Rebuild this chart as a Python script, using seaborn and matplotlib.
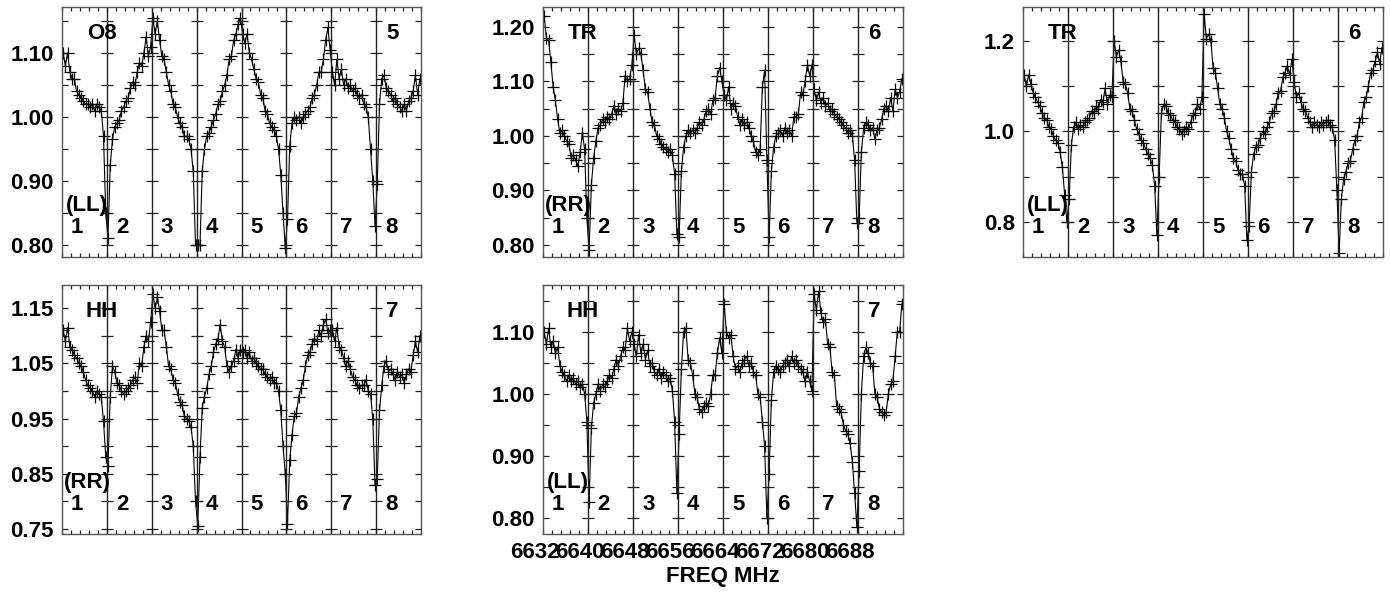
import numpy as np
import pandas as pd
import matplotlib
matplotlib.use("Agg")
import matplotlib.pyplot as plt
from matplotlib.ticker import MultipleLocator, FormatStrFormatter
from matplotlib.transforms import ScaledTranslation
import seaborn as sns

sns.set_style("ticks")
plt.rcParams["font.family"] = ["Liberation Sans", "DejaVu Sans"]
plt.rcParams["font.weight"] = "bold"
plt.rcParams["text.color"] = "black"
plt.rcParams["axes.labelcolor"] = "black"
plt.rcParams["xtick.color"] = "black"
plt.rcParams["ytick.color"] = "black"

# band edges of the 8 sub-bands (MHz), 20 channels per sub-band
edges = [6632, 6640, 6648, 6656, 6664, 6672, 6680, 6688, 6696]
n_chan = 20

# ---- O8 (LL) ----
o8_ll = [
    [1.10, 1.08, 1.10, 1.07, 1.06, 1.06, 1.04, 1.035, 1.03, 1.025, 1.02, 1.02, 1.015, 1.02, 1.01, 1.02, 1.015, 1.01, 0.97, 0.85],
    [0.81, 0.925, 0.965, 0.985, 0.99, 0.995, 1.01, 1.015, 1.025, 1.03, 1.045, 1.055, 1.05, 1.07, 1.085, 1.08, 1.10, 1.125, 1.095, 1.11],
    [1.155, 1.13, 1.15, 1.12, 1.095, 1.09, 1.07, 1.05, 1.04, 1.02, 1.015, 1.00, 0.99, 0.985, 0.97, 0.97, 0.965, 0.95, 0.915, 0.80],
    [0.80, 0.80, 0.915, 0.95, 0.97, 0.975, 0.985, 0.995, 1.005, 1.02, 1.025, 1.04, 1.05, 1.065, 1.09, 1.095, 1.12, 1.13, 1.145, 1.155],
    [1.13, 1.115, 1.13, 1.10, 1.09, 1.075, 1.06, 1.055, 1.035, 1.03, 1.01, 1.005, 0.99, 0.985, 0.98, 0.97, 0.95, 0.91, 0.85, 0.795],
    [0.84, 0.955, 0.99, 1.00, 0.995, 1.00, 0.99, 1.00, 1.005, 1.01, 1.015, 1.03, 1.035, 1.05, 1.07, 1.07, 1.09, 1.12, 1.14, 1.105],
    [1.07, 1.05, 1.09, 1.06, 1.075, 1.05, 1.06, 1.045, 1.05, 1.04, 1.045, 1.035, 1.03, 1.035, 1.02, 1.015, 1.00, 0.95, 0.90, 0.83],
    [0.895, 1.02, 1.06, 1.065, 1.045, 1.04, 1.035, 1.025, 1.03, 1.02, 1.015, 1.01, 1.02, 1.01, 1.025, 1.03, 1.04, 1.065, 1.035, 1.06],
]

# ---- TR (RR) ----
tr_rr = [
    [1.22, 1.18, 1.175, 1.135, 1.09, 1.065, 1.03, 1.005, 1.01, 1.00, 0.99, 0.985, 0.96, 0.965, 0.955, 0.945, 0.97, 1.005, 0.975, 0.85],
    [0.79, 0.91, 0.96, 0.99, 1.015, 1.02, 1.03, 1.025, 1.035, 1.03, 1.04, 1.055, 1.04, 1.05, 1.045, 1.06, 1.11, 1.10, 1.105, 1.13],
    [1.185, 1.15, 1.16, 1.15, 1.12, 1.085, 1.08, 1.05, 1.025, 1.02, 1.00, 0.995, 0.985, 0.98, 0.975, 0.97, 0.975, 0.965, 0.93, 0.82],
    [0.815, 0.935, 0.98, 1.00, 1.01, 1.005, 1.01, 1.005, 1.015, 1.025, 1.02, 1.03, 1.045, 1.05, 1.04, 1.065, 1.07, 1.11, 1.125, 1.10],
    [1.075, 1.065, 1.09, 1.05, 1.06, 1.055, 1.035, 1.02, 1.03, 1.02, 1.025, 1.015, 1.00, 0.99, 0.97, 0.965, 0.975, 1.09, 1.12, 0.955],
    [0.815, 0.935, 0.98, 1.00, 1.005, 1.01, 1.00, 1.015, 1.005, 1.01, 1.00, 1.035, 1.035, 1.04, 1.08, 1.075, 1.10, 1.13, 1.11, 1.13],
    [1.085, 1.065, 1.08, 1.06, 1.07, 1.055, 1.06, 1.045, 1.05, 1.04, 1.035, 1.03, 1.025, 1.02, 1.015, 1.005, 1.01, 1.00, 0.955, 0.84],
    [0.85, 0.97, 1.015, 1.025, 1.02, 1.01, 1.015, 0.995, 1.01, 1.015, 1.03, 1.05, 1.055, 1.045, 1.07, 1.045, 1.085, 1.07, 1.08, 1.105],
]

# ---- TR (LL) ----
tr_ll = [
    [1.125, 1.10, 1.125, 1.105, 1.085, 1.075, 1.065, 1.055, 1.04, 1.03, 1.025, 1.01, 1.005, 0.99, 0.98, 0.975, 0.955, 0.92, 0.86, 0.80],
    [0.85, 0.97, 1.01, 1.02, 1.005, 1.015, 1.01, 1.02, 1.025, 1.03, 1.045, 1.04, 1.055, 1.05, 1.07, 1.065, 1.095, 1.06, 1.08, 1.075],
    [1.20, 1.165, 1.18, 1.155, 1.11, 1.105, 1.085, 1.05, 1.045, 1.025, 1.005, 0.995, 0.98, 0.975, 0.96, 0.95, 0.94, 0.925, 0.88, 0.77],
    [0.90, 1.04, 1.06, 1.055, 1.04, 1.035, 1.025, 1.02, 1.01, 1.005, 0.995, 1.00, 1.01, 1.005, 1.02, 1.035, 1.04, 1.06, 1.05, 1.075],
    [1.26, 1.205, 1.215, 1.20, 1.14, 1.13, 1.095, 1.06, 1.05, 1.03, 1.00, 0.985, 0.96, 0.94, 0.935, 0.915, 0.905, 0.905, 0.88, 0.76],
    [0.79, 0.91, 0.95, 0.965, 0.97, 0.985, 1.00, 0.995, 1.01, 1.02, 1.04, 1.045, 1.06, 1.085, 1.09, 1.12, 1.13, 1.145, 1.125, 1.16],
    [1.11, 1.075, 1.085, 1.065, 1.05, 1.045, 1.03, 1.02, 1.01, 1.02, 1.015, 1.01, 1.02, 1.015, 1.02, 1.025, 1.015, 1.01, 0.98, 0.87],
    [0.73, 0.85, 0.895, 0.91, 0.93, 0.935, 0.96, 0.98, 0.99, 1.02, 1.03, 1.065, 1.075, 1.10, 1.13, 1.135, 1.155, 1.175, 1.15, 1.185],
]

# ---- HH (RR) ----
hh_rr = [
    [1.11, 1.09, 1.115, 1.08, 1.075, 1.065, 1.06, 1.05, 1.045, 1.035, 1.02, 1.01, 1.005, 1.00, 0.99, 1.00, 0.995, 0.99, 0.945, 0.88],
    [0.865, 0.99, 1.045, 1.035, 1.015, 1.01, 1.00, 0.995, 1.00, 1.005, 1.01, 1.02, 1.025, 1.015, 1.05, 1.045, 1.08, 1.10, 1.09, 1.125],
    [1.175, 1.15, 1.17, 1.145, 1.11, 1.11, 1.08, 1.045, 1.04, 1.02, 1.015, 0.995, 0.98, 0.975, 0.955, 0.95, 0.945, 0.935, 0.90, 0.80],
    [0.755, 0.88, 0.97, 0.99, 1.005, 1.03, 1.045, 1.07, 1.085, 1.095, 1.12, 1.09, 1.08, 1.045, 1.035, 1.045, 1.055, 1.075, 1.06, 1.075],
    [1.07, 1.075, 1.06, 1.07, 1.055, 1.06, 1.05, 1.045, 1.04, 1.04, 1.03, 1.025, 1.02, 1.025, 1.015, 1.015, 1.00, 0.965, 0.90, 0.85],
    [0.76, 0.875, 0.92, 0.955, 0.96, 0.99, 1.005, 1.02, 1.045, 1.065, 1.07, 1.085, 1.095, 1.09, 1.11, 1.10, 1.12, 1.13, 1.105, 1.11],
    [1.11, 1.09, 1.115, 1.08, 1.075, 1.06, 1.045, 1.055, 1.04, 1.025, 1.02, 1.01, 1.005, 1.01, 1.01, 1.02, 1.00, 0.995, 0.95, 0.83],
    [0.84, 0.965, 1.01, 1.045, 1.055, 1.035, 1.04, 1.03, 1.02, 1.035, 1.025, 1.03, 1.015, 1.03, 1.04, 1.035, 1.065, 1.09, 1.07, 1.10],
]

# ---- HH (LL) ----
hh_ll = [
    [1.10, 1.08, 1.105, 1.075, 1.085, 1.065, 1.075, 1.045, 1.035, 1.03, 1.02, 1.03, 1.02, 1.025, 1.015, 1.02, 1.01, 1.015, 1.00, 0.955],
    [0.825, 0.945, 0.985, 1.00, 1.015, 1.005, 1.015, 1.01, 1.02, 1.03, 1.025, 1.04, 1.055, 1.045, 1.06, 1.075, 1.07, 1.105, 1.085, 1.10],
    [1.08, 1.06, 1.095, 1.065, 1.08, 1.055, 1.07, 1.045, 1.05, 1.035, 1.03, 1.04, 1.025, 1.035, 1.03, 1.02, 1.025, 1.005, 0.955, 0.84],
    [0.935, 1.04, 1.10, 1.105, 1.055, 1.05, 1.03, 1.00, 0.995, 0.975, 0.97, 0.98, 0.985, 0.98, 1.00, 1.03, 1.03, 1.065, 1.09, 1.065],
    [1.145, 1.10, 1.09, 1.095, 1.06, 1.04, 1.045, 1.035, 1.05, 1.055, 1.06, 1.045, 1.05, 1.035, 1.03, 1.00, 0.995, 0.955, 0.915, 0.80],
    [0.87, 0.99, 1.035, 1.045, 1.04, 1.035, 1.045, 1.05, 1.055, 1.045, 1.06, 1.05, 1.055, 1.045, 1.04, 1.035, 1.02, 1.035, 1.02, 1.005],
    [1.16, 1.135, 1.165, 1.13, 1.115, 1.12, 1.08, 1.075, 1.035, 1.03, 0.98, 0.975, 0.97, 0.95, 0.94, 0.935, 0.92, 0.89, 0.84, 0.785],
    [0.875, 1.00, 1.06, 1.075, 1.065, 1.05, 1.045, 1.00, 0.995, 0.975, 0.97, 0.965, 0.97, 1.00, 1.015, 1.02, 1.06, 1.10, 1.10, 1.145],
]

# panel settings: data, source, polarisation, number, y limits, tick steps, label format
panels = [
    dict(data=o8_ll, name="O8", pol="(LL)", num="5", ylim=(0.781, 1.172), major=0.1, minor=0.05, fmt="%.2f",
         rect=(62, 7, 359, 250)),
    dict(data=tr_rr, name="TR", pol="(RR)", num="6", ylim=(0.778, 1.236), major=0.1, minor=0.05, fmt="%.2f",
         rect=(543, 7, 360, 250)),
    dict(data=tr_ll, name="TR", pol="(LL)", num="6", ylim=(0.722, 1.275), major=0.2, minor=0.1, fmt="%.1f",
         rect=(1023, 7, 360, 250)),
    dict(data=hh_rr, name="HH", pol="(RR)", num="7", ylim=(0.741, 1.192), major=0.1, minor=0.05, fmt="%.2f",
         rect=(62, 285, 359, 249), start=0.75),
    dict(data=hh_ll, name="HH", pol="(LL)", num="7", ylim=(0.774, 1.175), major=0.1, minor=0.05, fmt="%.2f",
         rect=(543, 285, 360, 249), xlabels=True),
]

W, H = 1390, 593
fig = plt.figure(figsize=(W / 100, H / 100), dpi=100)

chan = np.linspace(0.2, 7.8, n_chan)
frame_col = "#555555"

for p in panels:
    x0, y0, w, h = p["rect"]
    ax = fig.add_axes([x0 / W, 1 - (y0 + h) / H, w / W, h / H])

    rows = []
    for k, seg in enumerate(p["data"]):
        for c, v in zip(chan, seg):
            rows.append({"freq": edges[k] + c, "ratio": v, "band": k + 1})
    df = pd.DataFrame(rows)

    sns.lineplot(data=df, x="freq", y="ratio", ax=ax, color="black", lw=0.8,
                 marker="+", markersize=8, markeredgewidth=0.9, markeredgecolor="black",
                 estimator=None, sort=False)

    ax.set_xlim(edges[0], edges[-1])
    ax.set_ylim(*p["ylim"])

    # sub-band separators
    for e in edges[1:-1]:
        ax.axvline(e, color="#222222", lw=1.0)

    # y ticks
    start = p.get("start", round(np.ceil(p["ylim"][0] / p["major"]) * p["major"], 2))
    majors = np.arange(start, p["ylim"][1], p["major"])
    ax.set_yticks(majors)
    ax.yaxis.set_major_formatter(FormatStrFormatter(p["fmt"]))
    ax.yaxis.set_minor_locator(MultipleLocator(p["minor"]))
    ax.tick_params(axis="y", which="both", direction="in", left=True, right=True,
                   length=4, width=0.9, color="#222222", labelsize=16, pad=6)

    # tick crosses on each separator
    lo = np.ceil(p["ylim"][0] / p["minor"] - 1e-6) * p["minor"]
    yt = np.arange(lo, p["ylim"][1], p["minor"])
    gx, gy = np.meshgrid(edges[1:-1], yt)
    ax.plot(gx.ravel(), gy.ravel(), ls="none", marker="_", ms=8, mew=0.9, color="#222222")

    # x ticks
    ax.set_xticks(edges[:-1])
    ax.xaxis.set_minor_locator(MultipleLocator(1.6))
    ax.tick_params(axis="x", which="both", direction="in", top=True, bottom=True,
                   length=3, width=0.9, color="#222222", labelsize=16, pad=6)
    if p.get("xlabels"):
        ax.set_xlabel("FREQ MHz", fontsize=16, fontweight="bold", labelpad=2)
        shift = ScaledTranslation(-6 / 72, 0, fig.dpi_scale_trans)
        for lab in ax.get_xticklabels():
            lab.set_transform(lab.get_transform() + shift)
    else:
        ax.set_xticklabels([])
        ax.set_xlabel("")
    ax.set_ylabel("")

    for s in ax.spines.values():
        s.set_color(frame_col)
        s.set_linewidth(1.0)

    # in-panel annotations
    ax.text(0.11, 0.895, p["name"], transform=ax.transAxes, fontsize=16,
            fontweight="bold", ha="center", va="center")
    ax.text(0.92, 0.895, p["num"], transform=ax.transAxes, fontsize=16,
            fontweight="bold", ha="center", va="center")
    ax.text(0.07, 0.205, p["pol"], transform=ax.transAxes, fontsize=16,
            fontweight="bold", ha="center", va="center")
    for k in range(8):
        ax.text(edges[k] + 2.7, 0.117, str(k + 1), transform=ax.get_xaxis_transform(),
                fontsize=16, fontweight="bold", ha="center", va="center")

fig.savefig("out.png", dpi=100)
